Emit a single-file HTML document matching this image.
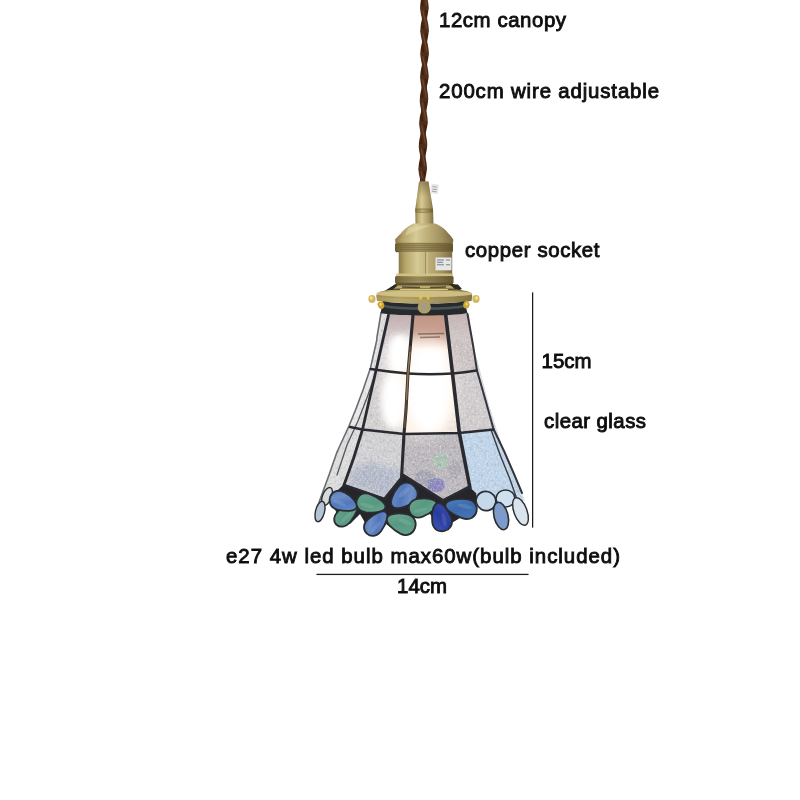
<!DOCTYPE html>
<html><head><meta charset="utf-8">
<style>
html,body{margin:0;padding:0;background:#fff;}
body{width:800px;height:800px;overflow:hidden;position:relative;font-family:"Liberation Sans",sans-serif;}
svg{position:absolute;left:0;top:0;display:block}
text{font-family:"Liberation Sans",sans-serif;font-size:20.4px;fill:#111;stroke:#111;stroke-width:0.9px;}
</style></head><body>
<svg width="800" height="800" viewBox="0 0 800 800">
<defs>
<filter id="soft" x="-5%" y="-5%" width="110%" height="110%"><feGaussianBlur stdDeviation="0.65"/></filter>
<filter id="soft2" x="-5%" y="-5%" width="110%" height="110%"><feGaussianBlur stdDeviation="0.35"/></filter>
<filter id="glowblur" x="-40%" y="-40%" width="180%" height="180%"><feGaussianBlur stdDeviation="6"/></filter>
<filter id="tex" x="0" y="0" width="100%" height="100%">
  <feTurbulence type="fractalNoise" baseFrequency="0.3" numOctaves="3" seed="11" result="n"/>
  <feColorMatrix in="n" type="matrix" values="0.6 0 0 0 0.7  0.6 0 0 0 0.7  0.6 0 0 0 0.71  0 0 0 0 1"/>
</filter>
<filter id="tex2" x="0" y="0" width="100%" height="100%">
  <feTurbulence type="fractalNoise" baseFrequency="0.55" numOctaves="2" seed="3" result="n"/>
  <feColorMatrix in="n" type="matrix" values="0 0 0 0 1  0 0 0 0 1  0 0 0 0 1  3.2 0 0 0 -1.55"/>
</filter>
<filter id="soft3" x="-30%" y="-30%" width="160%" height="160%"><feGaussianBlur stdDeviation="3"/></filter>
<linearGradient id="brassH" x1="0" y1="0" x2="1" y2="0">
  <stop offset="0" stop-color="#8a7a46"/>
  <stop offset="0.12" stop-color="#b4a468"/>
  <stop offset="0.35" stop-color="#d6ca96"/>
  <stop offset="0.55" stop-color="#c0b078"/>
  <stop offset="0.8" stop-color="#a39260"/>
  <stop offset="1" stop-color="#7c6c40"/>
</linearGradient>
<linearGradient id="brassH2" x1="0" y1="0" x2="1" y2="0">
  <stop offset="0" stop-color="#76663a"/>
  <stop offset="0.15" stop-color="#9c8c58"/>
  <stop offset="0.4" stop-color="#bcad76"/>
  <stop offset="0.7" stop-color="#988754"/>
  <stop offset="1" stop-color="#6a5b32"/>
</linearGradient>
<linearGradient id="coneTop" x1="0" y1="0" x2="0" y2="1"><stop offset="0" stop-color="#5e4e26" stop-opacity="0.5"/><stop offset="1" stop-color="#5e4e26" stop-opacity="0"/></linearGradient>
<linearGradient id="ringH" x1="0" y1="0" x2="1" y2="0">
  <stop offset="0" stop-color="#a8955a"/><stop offset="0.25" stop-color="#bba96c"/><stop offset="0.5" stop-color="#b09d60"/><stop offset="0.8" stop-color="#988652"/><stop offset="1" stop-color="#847242"/>
</linearGradient>
<linearGradient id="ringG" x1="0" y1="0" x2="0" y2="1">
  <stop offset="0" stop-color="#d8c98e"/>
  <stop offset="0.5" stop-color="#c2ae6e"/>
  <stop offset="1" stop-color="#a8925a"/>
</linearGradient>
<radialGradient id="bulb" cx="0.5" cy="0.5" r="0.5">
  <stop offset="0" stop-color="#fffdf8" stop-opacity="1"/>
  <stop offset="0.45" stop-color="#fff8ee" stop-opacity="0.95"/>
  <stop offset="0.75" stop-color="#fff0e0" stop-opacity="0.55"/>
  <stop offset="1" stop-color="#ffe8d8" stop-opacity="0"/>
</radialGradient>
<linearGradient id="glassV" x1="0" y1="0" x2="0" y2="1">
  <stop offset="0" stop-color="#c3aca6"/>
  <stop offset="0.18" stop-color="#d2c6c6"/>
  <stop offset="0.5" stop-color="#d6d4d9"/>
  <stop offset="1" stop-color="#c9c9d0"/>
</linearGradient>
<linearGradient id="cTop" x1="0" y1="0" x2="0" y2="1">
  <stop offset="0" stop-color="#c39a8a"/><stop offset="0.42" stop-color="#cba596"/><stop offset="0.58" stop-color="#ecdccf"/><stop offset="1" stop-color="#f6efe8"/>
</linearGradient>
<linearGradient id="lTop" x1="0" y1="0" x2="0" y2="1">
  <stop offset="0" stop-color="#c3b1b4"/><stop offset="0.3" stop-color="#cdc0c0"/><stop offset="0.6" stop-color="#ddd8d8"/><stop offset="1" stop-color="#dddadc"/>
</linearGradient>
<linearGradient id="pBlue" x1="0" y1="0" x2="1" y2="1">
  <stop offset="0" stop-color="#7394cd"/><stop offset="0.45" stop-color="#5277bb"/><stop offset="0.7" stop-color="#6e8fc8"/><stop offset="1" stop-color="#4c6fb3"/>
</linearGradient>
<linearGradient id="pBlue2" x1="0" y1="0" x2="1" y2="1">
  <stop offset="0" stop-color="#4f82bd"/><stop offset="0.5" stop-color="#3c6aad"/><stop offset="1" stop-color="#4a78b8"/>
</linearGradient>
<linearGradient id="pGreen" x1="0" y1="0" x2="1" y2="1">
  <stop offset="0" stop-color="#76ae99"/><stop offset="0.5" stop-color="#579880"/><stop offset="1" stop-color="#6aa48e"/>
</linearGradient>
<linearGradient id="pDark" x1="0" y1="0" x2="1" y2="1">
  <stop offset="0" stop-color="#3a4db2"/><stop offset="0.5" stop-color="#2a3c9e"/><stop offset="1" stop-color="#3f58b8"/>
</linearGradient>
<linearGradient id="cOver" x1="0" y1="0" x2="0" y2="1">
  <stop offset="0" stop-color="#c09484" stop-opacity="1"/><stop offset="0.5" stop-color="#c9a090" stop-opacity="0.9"/><stop offset="1" stop-color="#e8d0c0" stop-opacity="0"/>
</linearGradient>
<linearGradient id="lOver" x1="0" y1="0" x2="0" y2="1">
  <stop offset="0" stop-color="#c0aeb2" stop-opacity="1"/><stop offset="0.5" stop-color="#cbbcbc" stop-opacity="0.8"/><stop offset="1" stop-color="#ddd4d4" stop-opacity="0"/>
</linearGradient>
<clipPath id="litClip"><path d="M388.500,314 L446,314 L452.500,373.500 L459.500,433 L404,434 L362.500,429.500 L376,370.500 Z"/></clipPath>
<clipPath id="shadeClip"><path id="shadeP" d="M381,312.500 L467.500,312.500 L473,345 L480,371 L488,402 L496,428 L504,451 L514,474 L522,493 L527,508 L500,505 L470,500 L440,508 L400,508 L360,505 L330,500 L319.500,501 L329,475 L337,452 L349,426 L355.500,410 L363,390 L370.500,368 L377.500,340 Z"/></clipPath>
</defs>
<rect width="800" height="800" fill="#fff"/>

<g id="lamp" filter="url(#soft)">
<!-- cord -->
<g id="cord">
<polyline points="424.3,-2 424.3,1 424.3,4 424.4,7 424.4,10 424.4,13 424.5,16 424.5,19 424.5,22 424.5,25 424.5,28 424.6,31 424.6,34 424.6,37 424.6,40 424.6,43 424.6,46 424.6,49 424.6,52 424.6,55 424.5,58 424.5,61 424.5,64 424.5,67 424.4,70 424.4,73 424.4,76 424.3,79 424.3,82 424.2,85 424.2,88 424.1,91 424.1,94 424.0,97 423.9,100 423.9,103 423.8,106 423.8,109 423.7,112 423.6,115 423.6,118 423.5,121 423.4,124 423.4,127 423.3,130 423.2,133 423.2,136 423.1,139 423.0,142 423.0,145 422.9,148 422.9,151 422.8,154 422.8,157 422.8,160 422.7,163 422.7,166 422.7,169 422.7,172 422.6,175 422.6,178 422.6,181" fill="none" stroke="#381c0e" stroke-width="5.2"/>
<polyline points="426.3,8.0 426.2,9.0 426.2,10.0 426.0,11.0 425.9,12.0 425.7,13.0 425.6,14.0 425.3,15.0 425.1,16.0 424.9,17.0 424.6,18.0 424.4,19.0 424.1,20.0 423.9,21.0 423.7,22.0 423.4,23.0 423.2,24.0 423.1,25.0 422.9,26.0 422.8,27.0 422.7,28.0 422.7,29.0 422.7,30.0 422.7,31.0" fill="none" stroke="#41220f" stroke-width="4.4" stroke-opacity="1" stroke-linecap="round" stroke-linejoin="round"/>
<polyline points="426.5,54.0 426.4,55.0 426.3,56.0 426.2,57.0 426.0,58.0 425.9,59.0 425.7,60.0 425.4,61.0 425.2,62.0 424.9,63.0 424.7,64.0 424.4,65.0 424.1,66.0 423.9,67.0 423.6,68.0 423.4,69.0 423.2,70.0 423.0,71.0 422.8,72.0 422.7,73.0 422.6,74.0 422.5,75.0 422.5,76.0 422.5,77.0" fill="none" stroke="#41220f" stroke-width="4.4" stroke-opacity="1" stroke-linecap="round" stroke-linejoin="round"/>
<polyline points="425.8,100.0 425.8,101.0 425.7,102.0 425.5,103.0 425.4,104.0 425.2,105.0 424.9,106.0 424.7,107.0 424.4,108.0 424.2,109.0 423.9,110.0 423.6,111.0 423.3,112.0 423.1,113.0 422.8,114.0 422.5,115.0 422.3,116.0 422.1,117.0 421.9,118.0 421.8,119.0 421.7,120.0 421.6,121.0 421.6,122.0 421.6,123.0" fill="none" stroke="#41220f" stroke-width="4.4" stroke-opacity="1" stroke-linecap="round" stroke-linejoin="round"/>
<polyline points="424.9,146.0 424.8,147.0 424.7,148.0 424.6,149.0 424.4,150.0 424.2,151.0 424.0,152.0 423.8,153.0 423.5,154.0 423.2,155.0 423.0,156.0 422.7,157.0 422.4,158.0 422.2,159.0 421.9,160.0 421.7,161.0 421.5,162.0 421.3,163.0 421.1,164.0 421.0,165.0 420.9,166.0 420.8,167.0 420.8,168.0 420.8,169.0" fill="none" stroke="#41220f" stroke-width="4.4" stroke-opacity="1" stroke-linecap="round" stroke-linejoin="round"/>
<polyline points="423.9,-3.0 423.7,-2.0 423.4,-1.0 423.2,0.0 423.0,1.0 422.9,2.0 422.7,3.0 422.6,4.0 422.5,5.0 422.5,6.0 422.5,7.0 422.5,8.0" fill="none" stroke="#41220f" stroke-width="4.4" stroke-opacity="1" stroke-linecap="round" stroke-linejoin="round"/>
<polyline points="426.4,31.0 426.4,32.0 426.3,33.0 426.2,34.0 426.1,35.0 425.9,36.0 425.7,37.0 425.5,38.0 425.2,39.0 425.0,40.0 424.7,41.0 424.5,42.0 424.2,43.0 424.0,44.0 423.7,45.0 423.5,46.0 423.3,47.0 423.1,48.0 423.0,49.0 422.8,50.0 422.8,51.0 422.7,52.0 422.7,53.0 422.7,54.0" fill="none" stroke="#41220f" stroke-width="4.4" stroke-opacity="1" stroke-linecap="round" stroke-linejoin="round"/>
<polyline points="426.2,77.0 426.2,78.0 426.1,79.0 425.9,80.0 425.8,81.0 425.6,82.0 425.4,83.0 425.1,84.0 424.9,85.0 424.6,86.0 424.4,87.0 424.1,88.0 423.8,89.0 423.5,90.0 423.3,91.0 423.0,92.0 422.8,93.0 422.6,94.0 422.4,95.0 422.3,96.0 422.2,97.0 422.1,98.0 422.1,99.0 422.1,100.0" fill="none" stroke="#41220f" stroke-width="4.4" stroke-opacity="1" stroke-linecap="round" stroke-linejoin="round"/>
<polyline points="425.3,123.0 425.3,124.0 425.1,125.0 425.0,126.0 424.8,127.0 424.6,128.0 424.4,129.0 424.2,130.0 423.9,131.0 423.7,132.0 423.4,133.0 423.1,134.0 422.8,135.0 422.6,136.0 422.3,137.0 422.1,138.0 421.8,139.0 421.6,140.0 421.5,141.0 421.3,142.0 421.2,143.0 421.1,144.0 421.1,145.0 421.1,146.0" fill="none" stroke="#41220f" stroke-width="4.4" stroke-opacity="1" stroke-linecap="round" stroke-linejoin="round"/>
<polyline points="424.6,169.0 424.5,170.0 424.4,171.0 424.3,172.0 424.1,173.0 424.0,174.0 423.7,175.0 423.5,176.0 423.3,177.0 423.0,178.0 422.8,179.0 422.5,180.0 422.2,181.0" fill="none" stroke="#41220f" stroke-width="4.4" stroke-opacity="1" stroke-linecap="round" stroke-linejoin="round"/>
<polyline points="424.6,-3.0 424.9,-2.0 425.1,-1.0 425.4,0.0 425.6,1.0 425.8,2.0 425.9,3.0 426.1,4.0 426.2,5.0 426.2,6.0 426.3,7.0 426.3,8.0" fill="none" stroke="#4f2d1a" stroke-width="4.6" stroke-opacity="1" stroke-linecap="round" stroke-linejoin="round"/>
<polyline points="422.7,31.0 422.7,32.0 422.8,33.0 422.9,34.0 423.1,35.0 423.3,36.0 423.5,37.0 423.7,38.0 423.9,39.0 424.2,40.0 424.4,41.0 424.7,42.0 424.9,43.0 425.2,44.0 425.4,45.0 425.7,46.0 425.9,47.0 426.0,48.0 426.2,49.0 426.3,50.0 426.4,51.0 426.5,52.0 426.5,53.0 426.5,54.0" fill="none" stroke="#4f2d1a" stroke-width="4.6" stroke-opacity="1" stroke-linecap="round" stroke-linejoin="round"/>
<polyline points="422.5,77.0 422.5,78.0 422.6,79.0 422.7,80.0 422.8,81.0 423.0,82.0 423.1,83.0 423.3,84.0 423.6,85.0 423.8,86.0 424.0,87.0 424.3,88.0 424.5,89.0 424.8,90.0 425.0,91.0 425.2,92.0 425.4,93.0 425.5,94.0 425.7,95.0 425.8,96.0 425.8,97.0 425.9,98.0 425.9,99.0 425.8,100.0" fill="none" stroke="#4f2d1a" stroke-width="4.6" stroke-opacity="1" stroke-linecap="round" stroke-linejoin="round"/>
<polyline points="421.6,123.0 421.6,124.0 421.6,125.0 421.7,126.0 421.9,127.0 422.0,128.0 422.2,129.0 422.4,130.0 422.6,131.0 422.8,132.0 423.1,133.0 423.3,134.0 423.5,135.0 423.8,136.0 424.0,137.0 424.2,138.0 424.4,139.0 424.5,140.0 424.7,141.0 424.8,142.0 424.9,143.0 424.9,144.0 424.9,145.0 424.9,146.0" fill="none" stroke="#4f2d1a" stroke-width="4.6" stroke-opacity="1" stroke-linecap="round" stroke-linejoin="round"/>
<polyline points="420.8,169.0 420.8,170.0 420.9,171.0 421.0,172.0 421.2,173.0 421.3,174.0 421.5,175.0 421.7,176.0 422.0,177.0 422.2,178.0 422.5,179.0 422.7,180.0 423.0,181.0" fill="none" stroke="#4f2d1a" stroke-width="4.6" stroke-opacity="1" stroke-linecap="round" stroke-linejoin="round"/>
<polyline points="422.5,8.0 422.6,9.0 422.6,10.0 422.8,11.0 422.9,12.0 423.1,13.0 423.3,14.0 423.5,15.0 423.8,16.0 424.0,17.0 424.3,18.0 424.6,19.0 424.8,20.0 425.1,21.0 425.4,22.0 425.6,23.0 425.8,24.0 426.0,25.0 426.1,26.0 426.3,27.0 426.4,28.0 426.4,29.0 426.5,30.0 426.4,31.0" fill="none" stroke="#4f2d1a" stroke-width="4.6" stroke-opacity="1" stroke-linecap="round" stroke-linejoin="round"/>
<polyline points="422.7,54.0 422.7,55.0 422.8,56.0 422.9,57.0 423.1,58.0 423.2,59.0 423.4,60.0 423.6,61.0 423.9,62.0 424.1,63.0 424.3,64.0 424.6,65.0 424.8,66.0 425.1,67.0 425.3,68.0 425.5,69.0 425.7,70.0 425.9,71.0 426.0,72.0 426.1,73.0 426.2,74.0 426.3,75.0 426.3,76.0 426.2,77.0" fill="none" stroke="#4f2d1a" stroke-width="4.6" stroke-opacity="1" stroke-linecap="round" stroke-linejoin="round"/>
<polyline points="422.1,100.0 422.1,101.0 422.1,102.0 422.2,103.0 422.4,104.0 422.5,105.0 422.7,106.0 422.9,107.0 423.1,108.0 423.3,109.0 423.6,110.0 423.8,111.0 424.0,112.0 424.3,113.0 424.5,114.0 424.7,115.0 424.9,116.0 425.0,117.0 425.2,118.0 425.3,119.0 425.3,120.0 425.4,121.0 425.4,122.0 425.3,123.0" fill="none" stroke="#4f2d1a" stroke-width="4.6" stroke-opacity="1" stroke-linecap="round" stroke-linejoin="round"/>
<polyline points="421.1,146.0 421.1,147.0 421.2,148.0 421.3,149.0 421.4,150.0 421.6,151.0 421.8,152.0 422.0,153.0 422.2,154.0 422.4,155.0 422.7,156.0 422.9,157.0 423.2,158.0 423.4,159.0 423.6,160.0 423.8,161.0 424.0,162.0 424.2,163.0 424.3,164.0 424.4,165.0 424.5,166.0 424.6,167.0 424.6,168.0 424.6,169.0" fill="none" stroke="#4f2d1a" stroke-width="4.6" stroke-opacity="1" stroke-linecap="round" stroke-linejoin="round"/>
<polyline points="425.6,0.0 425.8,1.0 426.0,2.0 426.1,3.0 426.3,4.0 426.4,5.0" fill="none" stroke="#7a5038" stroke-width="1.3" stroke-opacity="0.7" stroke-linecap="round" stroke-linejoin="round"/>
<polyline points="423.1,34.0 423.3,35.0 423.5,36.0 423.7,37.0 423.9,38.0 424.1,39.0 424.4,40.0 424.6,41.0 424.9,42.0 425.1,43.0 425.4,44.0 425.6,45.0 425.9,46.0 426.1,47.0 426.2,48.0 426.4,49.0 426.5,50.0 426.6,51.0" fill="none" stroke="#7a5038" stroke-width="1.3" stroke-opacity="0.7" stroke-linecap="round" stroke-linejoin="round"/>
<polyline points="422.9,80.0 423.0,81.0 423.2,82.0 423.3,83.0 423.5,84.0 423.8,85.0 424.0,86.0 424.2,87.0 424.5,88.0 424.7,89.0 425.0,90.0 425.2,91.0 425.4,92.0 425.6,93.0 425.7,94.0 425.9,95.0 426.0,96.0 426.0,97.0" fill="none" stroke="#7a5038" stroke-width="1.3" stroke-opacity="0.7" stroke-linecap="round" stroke-linejoin="round"/>
<polyline points="421.9,126.0 422.1,127.0 422.2,128.0 422.4,129.0 422.6,130.0 422.8,131.0 423.0,132.0 423.3,133.0 423.5,134.0 423.7,135.0 424.0,136.0 424.2,137.0 424.4,138.0 424.6,139.0 424.7,140.0 424.9,141.0 425.0,142.0 425.1,143.0" fill="none" stroke="#7a5038" stroke-width="1.3" stroke-opacity="0.7" stroke-linecap="round" stroke-linejoin="round"/>
<polyline points="421.2,172.0 421.4,173.0 421.5,174.0 421.7,175.0 421.9,176.0 422.2,177.0 422.4,178.0" fill="none" stroke="#7a5038" stroke-width="1.3" stroke-opacity="0.7" stroke-linecap="round" stroke-linejoin="round"/>
<polyline points="423.0,11.0 423.1,12.0 423.3,13.0 423.5,14.0 423.7,15.0 424.0,16.0 424.2,17.0 424.5,18.0 424.8,19.0 425.0,20.0 425.3,21.0 425.6,22.0 425.8,23.0 426.0,24.0 426.2,25.0 426.3,26.0 426.5,27.0 426.6,28.0" fill="none" stroke="#7a5038" stroke-width="1.3" stroke-opacity="0.7" stroke-linecap="round" stroke-linejoin="round"/>
<polyline points="423.1,57.0 423.3,58.0 423.4,59.0 423.6,60.0 423.8,61.0 424.1,62.0 424.3,63.0 424.5,64.0 424.8,65.0 425.0,66.0 425.3,67.0 425.5,68.0 425.7,69.0 425.9,70.0 426.1,71.0 426.2,72.0 426.3,73.0 426.4,74.0" fill="none" stroke="#7a5038" stroke-width="1.3" stroke-opacity="0.7" stroke-linecap="round" stroke-linejoin="round"/>
<polyline points="422.4,103.0 422.6,104.0 422.7,105.0 422.9,106.0 423.1,107.0 423.3,108.0 423.5,109.0 423.8,110.0 424.0,111.0 424.2,112.0 424.5,113.0 424.7,114.0 424.9,115.0 425.1,116.0 425.2,117.0 425.4,118.0 425.5,119.0 425.5,120.0" fill="none" stroke="#7a5038" stroke-width="1.3" stroke-opacity="0.7" stroke-linecap="round" stroke-linejoin="round"/>
<polyline points="421.5,149.0 421.6,150.0 421.8,151.0 422.0,152.0 422.2,153.0 422.4,154.0 422.6,155.0 422.9,156.0 423.1,157.0 423.4,158.0 423.6,159.0 423.8,160.0 424.0,161.0 424.2,162.0 424.4,163.0 424.5,164.0 424.6,165.0 424.7,166.0" fill="none" stroke="#7a5038" stroke-width="1.3" stroke-opacity="0.7" stroke-linecap="round" stroke-linejoin="round"/>
</g>

<!-- socket -->
<g id="socket">
  <!-- cone -->
  <path d="M419,181.500 L428.500,181.500 L433,209 L433.500,224 L415.500,224 L415.300,209 Z" fill="url(#brassH)"/>
  <path d="M419,181.500 L428.500,181.500 L431,197 L417,197 Z" fill="url(#coneTop)"/>
  <path d="M415.300,208.800 L433,208.800 L433,212.500 L415.500,212.500 Z" fill="url(#brassH2)"/>
  <path d="M415.300,209 L433,209" stroke="#7d6c3a" stroke-width="0.800" opacity="0.8"/>
  <path d="M415.500,212.600 L433.200,212.600" stroke="#86753f" stroke-width="0.800" opacity="0.7"/>
  <!-- white tag -->
  <rect x="431" y="184" width="7.500" height="9.500" fill="#e6e6e8" transform="rotate(8 434 188)"/>
  <path d="M432.500,186.500 L437,187.200 M432.300,189 L436.800,189.700 M432,191.200 L436.500,191.900" stroke="#8a8a92" stroke-width="0.700"/>
  <!-- dome -->
  <path d="M413.800,223.400 L435,223.400 C439,224.500 443,227.900 443,227.900 C446,230 448.600,233.500 448.600,233.500 C450.500,235.500 452,237 452,238.500 L396.900,238.500 C397,237 398.500,235.500 400.800,233.500 C400.800,233.500 403,230 406.400,227.900 C406.400,227.900 410,224.500 413.800,223.400 Z" fill="url(#brassH)"/>
  <path d="M408,228.500 C413,225.500 424,225 430,225.800 C425,228 412,232 405,236 Z" fill="#e6dbae" opacity="0.5"/>
  <!-- lip + knurl band 1 -->
  <rect x="395.200" y="237.800" width="58" height="6" rx="2" fill="url(#brassH)"/>
  <rect x="395" y="243" width="58" height="8.800" rx="1.500" fill="url(#brassH2)"/>
  <rect x="395" y="243.500" width="58" height="8.300" fill="#4a3e1e" opacity="0.22"/>
  <path d="M396,243.300 L452.500,243.300" stroke="#7a6935" stroke-width="0.900" opacity="0.8"/>
  <path d="M396,245.500 L452.500,245.500 M396,247.500 L452.500,247.500 M396,249.500 L452.500,249.500" stroke="#6e5e30" stroke-width="0.700" opacity="0.55"/>
  <path d="M396,251.600 L452.500,251.600" stroke="#4f4220" stroke-width="1.300" opacity="0.75"/>
  <!-- body -->
  <rect x="398.700" y="251.500" width="53.500" height="24.500" fill="url(#brassH)"/>
  <rect x="425.300" y="252" width="1" height="23.500" fill="#7a6935" opacity="0.7"/>
  <rect x="426.300" y="252" width="1.200" height="23.500" fill="#e8ddb0" opacity="0.6"/>
  <rect x="435.500" y="257.500" width="16" height="12.800" fill="#e6e6e6"/>
  <path d="M437,260 L444,260 M437,262.300 L443,262.300 M437,264.800 L444,264.800 M446,260 L450,260 M446,264.800 L450,264.800" stroke="#555a66" stroke-width="1" opacity="0.75"/>
  <!-- lip + knurl band 2 -->
  <rect x="396" y="273.500" width="57" height="3" rx="1.200" fill="#d3c488" opacity="0.9"/>
  <rect x="395" y="276" width="58.500" height="7.500" rx="1.500" fill="url(#brassH2)"/>
  <rect x="395" y="276.500" width="58.500" height="7" fill="#4a3e1e" opacity="0.22"/>
  <path d="M396,278 L453,278 M396,280 L453,280" stroke="#6e5e30" stroke-width="0.700" opacity="0.55"/>
  <path d="M396,283.500 L453,283.500" stroke="#4a3e1e" stroke-width="1.400" opacity="0.8"/>
  <!-- under-band cage -->
  <path d="M396,284 L453,284 L462,291 L386,291 Z" fill="#5b5030"/>
  <path d="M398,285.500 L451,285.500 L456,288.500 L393,288.500 Z" fill="#b9a868"/>
  <path d="M386,291.500 L396,284.500 M462,291.500 L453,284.500" stroke="#3a3320" stroke-width="1.500"/>
  <path d="M400,289.800 L448,289.800" stroke="#d6c688" stroke-width="1.400"/>
  <path d="M384.500,291 L395,284.500 L397,286 L390,291.500 Z" fill="#2e2a22"/>
  <path d="M449,284 L458,284.500 L462,289 L455,289 Z" fill="#2e2a22"/>
  <path d="M402,287 L420,287.500 M430,287.500 L446,287" stroke="#3c3422" stroke-width="1.300" opacity="0.8"/>
  <!-- ring -->
  <path d="M376.200,296 C376.200,291.500 384,290 394,290 L455,290 C465,290 472.300,291.500 472.300,296 L471.500,301 C455,304 394,304 377,301 Z" fill="url(#ringH)"/>
  <path d="M377,294.800 C395,297.800 455,297.800 471.500,294.800 L472,292.500 C462,290 388,290 376.500,292.500 Z" fill="#d2c48a" opacity="0.9"/>
  <path d="M377,296 C395,299 455,299 471.500,296" fill="none" stroke="#8e7c44" stroke-width="0.700" opacity="0.6"/>
  <!-- tabs above screw -->
  <rect x="419.300" y="295.500" width="2.600" height="4" rx="1" fill="#e2c455"/>
  <rect x="426.800" y="295.500" width="2.600" height="4" rx="1" fill="#e2c455"/>
  <!-- knobs -->
  <ellipse cx="372" cy="299" rx="3.600" ry="4" fill="#d2b860"/>
  <ellipse cx="371.300" cy="298" rx="1.500" ry="1.800" fill="#f1e2a0"/>
  <ellipse cx="380.500" cy="304.300" rx="3" ry="2.600" fill="#c9a234"/>
  <ellipse cx="476" cy="299" rx="3.600" ry="4" fill="#d2b860"/>
  <ellipse cx="476.500" cy="298" rx="1.500" ry="1.800" fill="#f1e2a0"/>
  <ellipse cx="466.500" cy="304.300" rx="3" ry="2.600" fill="#c9a234"/>
</g>

<!-- shade -->
<g id="shade">
  <use href="#shadeP" fill="#cfccd1"/>
  <g clip-path="url(#shadeClip)">
    <!-- left sliver -->
    <path d="M381,313 L388.500,315 L376,370.500 L362.500,429.500 L344,485 L316,521 L300,521 L300,313 Z" fill="#dddcdc"/>
    <path d="M379,318 L373,352 L366,380 L357,404 L350,424 L358,426 L370,385 L376,355 L382,318 Z" fill="#eceaea" opacity="0.8"/>
    <!-- row1 -->
    <path d="M388.500,314 L413,314 L408,373 L376,370.500 Z" fill="url(#lTop)"/>
    <path d="M413,314 L446,314 L452.500,373.500 L408,373 Z" fill="url(#cTop)"/>
    <path d="M418,334 L444,333.500 M420,337.500 L440,337" stroke="#5c4a40" stroke-width="1.600" opacity="0.7" fill="none"/>
    <path d="M446,314 L468,314 L477,371 L452.500,374 Z" fill="#ccc3c2"/>
    <!-- row2 -->
    <path d="M376,370.500 L408,373 L404,434 L362.500,429.500 Z" fill="#d4d0d0"/>
    <path d="M408,373 L452.500,373.500 L459.500,433 L404,434 Z" fill="#ebe2dc"/>
    <path d="M452.500,374 L477,371 L493.500,429.500 L459.500,433 Z" fill="#d0cccd"/>
    <!-- row3 -->
    <path d="M362.500,430 L404,434 L401,478 L384.500,498.500 L345.500,484 Z" fill="#d0d0d3"/>
    <path d="M404,434 L459,433 L468.500,486.500 L443,500 L403,475 Z" fill="#bbb7bc"/>
    <path d="M459.500,433 L493.500,429.500 L524,500 L500,520 L470,488 Z" fill="#bfd4e9"/>
    <!-- right sliver -->
    <path d="M468,313 L477,371 L493.500,429.500 L522,495 L530,512 L528,530 L540,530 L540,300 Z" fill="#d9dce3"/>
    <!-- tints -->
    <ellipse cx="436" cy="485" rx="9" ry="7" fill="#6f6cc0" opacity="0.6" filter="url(#soft)"/>
    <ellipse cx="441" cy="461" rx="8" ry="8" fill="#a4c9ae" opacity="0.6"/>
    <ellipse cx="425" cy="478" rx="10" ry="8" fill="#8f93a8" opacity="0.45"/>
    <ellipse cx="455" cy="470" rx="6" ry="9" fill="#9a98a8" opacity="0.4"/>
    <path d="M348,484 L352,470 L372,462 L390,470 L400,468 L400,480 L385,497 Z" fill="#98a4bf" opacity="0.5" filter="url(#soft3)"/>
    <!-- texture -->
    <rect x="300" y="310" width="240" height="230" fill="#fff" filter="url(#tex)" style="mix-blend-mode:multiply"/>
    <rect x="300" y="310" width="240" height="230" fill="#fff" filter="url(#tex2)" opacity="0.4"/>
    <!-- bulb glow -->
    <ellipse cx="422" cy="388" rx="38" ry="56" fill="#fff4e8" opacity="0.28" filter="url(#glowblur)"/>
    <g clip-path="url(#litClip)">
      <ellipse cx="424" cy="386" rx="36" ry="56" fill="#fff6ec" opacity="0.95" filter="url(#glowblur)"/>
      <g filter="url(#soft3)">
        <ellipse cx="429" cy="392" rx="21" ry="40" fill="#fff"/>
        <ellipse cx="429" cy="360" rx="17" ry="14" fill="#fff"/>
        <ellipse cx="399" cy="353" rx="11" ry="20" fill="#fff"/>
        <ellipse cx="393" cy="401" rx="12" ry="28" fill="#fff"/>
      </g>
    </g>
    <path d="M413,314 L446,314 L450,350 L410,350 Z" fill="url(#cOver)"/>
    <path d="M388.500,314 L413,314 L411,338 L383,338 Z" fill="url(#lOver)"/>
    <path d="M446,314 L467,314 L472,345 L449.500,345 Z" fill="url(#lOver)" opacity="0.7"/>
    <path d="M418,334 L444,333.500 M420,337.500 L440,337" stroke="#5c4a40" stroke-width="1.600" opacity="0.6" fill="none"/>
  </g>
</g>

<!-- dark petal band -->
<path d="M336,492 L344,484 L384.500,498 L401.500,477 L404,475 L443,500 L469,486.500 L476,493 L478,502 L470,512 L450,524 L440,528 L430,514 L412,518 L408,530 L394,530 L386,524 L380,533 L368,528 L360,514 L350,524 L342,522 L334,508 Z" fill="#25282c"/>

<!-- lead lines -->
<g id="lead" fill="none" stroke="#2b2c30" stroke-linecap="round" stroke-linejoin="round">
  <path d="M381,313 L377,337 L376.800,340 L370.500,368 L363,390 L355.500,410 L349,426 L337,452 L329,475 L319.500,501 L316,520" stroke-width="1.600" stroke="#6a6c70"/>
  <path d="M373,371 L365,394 L355,420 L344,444 L334,474" stroke-width="1.300" stroke="#55575c" transform="translate(3,1)"/>
  <path d="M467.500,314 L473,345 L477,370.500 L486,402 L493.500,429 L504,451 L514,474 L522,493" stroke-width="2" stroke="#34363c"/>
  <path d="M494,430 L503,455 L512,477 L519,497" stroke-width="1.400" stroke="#3a3c42" transform="translate(-2.500,1)"/>
  <path d="M388.500,315 L376,370.500 L362.500,429.500 L353.500,458.500 L344,485" stroke-width="2.800"/>
  <path d="M413,315 L408,373 L406,410 L404,434 L401.500,478" stroke-width="3.100"/>
  <path d="M445.700,315 L452.500,373.500 L459.300,432.700 L470,488" stroke-width="3.600"/>
  <path d="M370.500,369 Q390,372 407.500,373.500 Q430,375 452.500,373.500 Q465,372.500 476.500,370.500" stroke-width="2.400"/>
  <path d="M350,427 L362.500,429.500 L404,434 L459,433 L493.500,429.500" stroke-width="2.500"/>
  <path d="M344,485 L384.500,499 L401.500,478 L403,475 L443,500.500 L469,487" stroke-width="2.800"/>
</g>
<!-- lit part of line B -->
<path d="M410.500,346 L408,373 L406,410 L404.500,428" fill="none" stroke="#604b34" stroke-width="2.100" opacity="0.95"/>
<path d="M410,352 L408,373 L406.500,400" fill="none" stroke="#c9a878" stroke-width="0.800" opacity="0.7"/>

<!-- petals -->
<g id="petals" stroke="#2a2d30" stroke-width="1.800">
  <ellipse cx="327" cy="496.500" rx="4.500" ry="9.500" fill="#d7dadd" stroke-width="1.400" transform="rotate(22 327 496.500)"/>
  <ellipse cx="320" cy="511.500" rx="4.500" ry="10.500" fill="#b5c3d4" stroke-width="1.400" transform="rotate(14 320 511.500)"/>
  <path d="M-1,0 C-1,-0.42 -0.45,-0.8 0.2,-0.92 C0.75,-1 1,-0.5 1,0 C1,0.5 0.75,1 0.2,0.92 C-0.45,0.8 -1,0.42 -1,0 Z" fill="url(#pGreen)" vector-effect="non-scaling-stroke" transform="translate(347 513.5) rotate(133) scale(15.37 8.69)"/>
  <path d="M-1,0 C-1,-0.42 -0.45,-0.8 0.2,-0.92 C0.75,-1 1,-0.5 1,0 C1,0.5 0.75,1 0.2,0.92 C-0.45,0.8 -1,0.42 -1,0 Z" fill="url(#pBlue)" vector-effect="non-scaling-stroke" transform="translate(343.5 502) rotate(202) scale(14.31 10.07)"/>
  <path d="M-1,0 C-1,-0.42 -0.45,-0.8 0.2,-0.92 C0.75,-1 1,-0.5 1,0 C1,0.5 0.75,1 0.2,0.92 C-0.45,0.8 -1,0.42 -1,0 Z" fill="url(#pGreen)" vector-effect="non-scaling-stroke" transform="translate(371 504) rotate(194) scale(14.84 10.07)"/>
  <path d="M-1,0 C-1,-0.42 -0.45,-0.8 0.2,-0.92 C0.75,-1 1,-0.5 1,0 C1,0.5 0.75,1 0.2,0.92 C-0.45,0.8 -1,0.42 -1,0 Z" fill="url(#pBlue)" vector-effect="non-scaling-stroke" transform="translate(376.5 523) rotate(132) scale(14.31 9.54)"/>
  <path d="M-1,0 C-1,-0.42 -0.45,-0.8 0.2,-0.92 C0.75,-1 1,-0.5 1,0 C1,0.5 0.75,1 0.2,0.92 C-0.45,0.8 -1,0.42 -1,0 Z" fill="url(#pGreen)" vector-effect="non-scaling-stroke" transform="translate(401 523) rotate(20) scale(14.84 11.13)"/>
  <path d="M-1,0 C-1,-0.42 -0.45,-0.8 0.2,-0.92 C0.75,-1 1,-0.5 1,0 C1,0.5 0.75,1 0.2,0.92 C-0.45,0.8 -1,0.42 -1,0 Z" fill="url(#pBlue)" vector-effect="non-scaling-stroke" transform="translate(403.5 496.5) rotate(-42) scale(14.84 11.66)"/>
  <path d="M-1,0 C-1,-0.42 -0.45,-0.8 0.2,-0.92 C0.75,-1 1,-0.5 1,0 C1,0.5 0.75,1 0.2,0.92 C-0.45,0.8 -1,0.42 -1,0 Z" fill="url(#pGreen)" vector-effect="non-scaling-stroke" transform="translate(423 507) rotate(165) scale(14.31 10.07)"/>
  <path d="M-1,0 C-1,-0.42 -0.45,-0.8 0.2,-0.92 C0.75,-1 1,-0.5 1,0 C1,0.5 0.75,1 0.2,0.92 C-0.45,0.8 -1,0.42 -1,0 Z" fill="url(#pBlue2)" vector-effect="non-scaling-stroke" transform="translate(461 508) rotate(12) scale(15.90 10.60)"/>
  <path d="M-1,0 C-1,-0.42 -0.45,-0.8 0.2,-0.92 C0.75,-1 1,-0.5 1,0 C1,0.5 0.75,1 0.2,0.92 C-0.45,0.8 -1,0.42 -1,0 Z" fill="url(#pDark)" vector-effect="non-scaling-stroke" transform="translate(441 517) rotate(76) scale(14.31 10.60)"/>
  <ellipse cx="0.25" cy="-0.25" rx="0.5" ry="0.22" fill="#fff" opacity="0.11" stroke="none" transform="translate(347 513.5) rotate(133) scale(14.5 8.2)"/>
  <ellipse cx="0.25" cy="-0.25" rx="0.5" ry="0.22" fill="#fff" opacity="0.11" stroke="none" transform="translate(343.5 502) rotate(202) scale(13.5 9.5)"/>
  <ellipse cx="0.25" cy="-0.25" rx="0.5" ry="0.22" fill="#fff" opacity="0.11" stroke="none" transform="translate(371 504) rotate(194) scale(14 9.5)"/>
  <ellipse cx="0.25" cy="-0.25" rx="0.5" ry="0.22" fill="#fff" opacity="0.11" stroke="none" transform="translate(376.5 523) rotate(132) scale(13.5 9)"/>
  <ellipse cx="0.25" cy="-0.25" rx="0.5" ry="0.22" fill="#fff" opacity="0.11" stroke="none" transform="translate(401 523) rotate(20) scale(14 10.5)"/>
  <ellipse cx="0.25" cy="-0.25" rx="0.5" ry="0.22" fill="#fff" opacity="0.11" stroke="none" transform="translate(403.5 496.5) rotate(-42) scale(14 11)"/>
  <ellipse cx="0.25" cy="-0.25" rx="0.5" ry="0.22" fill="#fff" opacity="0.11" stroke="none" transform="translate(423 507) rotate(165) scale(13.5 9.5)"/>
  <ellipse cx="0.25" cy="-0.25" rx="0.5" ry="0.22" fill="#fff" opacity="0.11" stroke="none" transform="translate(461 508) rotate(12) scale(15 10)"/>
  <ellipse cx="0.25" cy="-0.25" rx="0.5" ry="0.22" fill="#fff" opacity="0.11" stroke="none" transform="translate(441 517) rotate(76) scale(13.5 10)"/>
  <ellipse cx="486" cy="501" rx="10" ry="9.500" fill="#c6d9ea" stroke-width="1.600" transform="rotate(30 486 501)"/>
  <ellipse cx="505.500" cy="498.500" rx="9.500" ry="8.500" fill="#d1e0ee" stroke-width="1.600"/>
  <ellipse cx="501" cy="516" rx="7" ry="14" fill="#7c9aca" stroke-width="1.600" transform="rotate(-14 501 516)"/>
  <ellipse cx="520.500" cy="511.500" rx="6.500" ry="14.500" fill="#d9e4ec" stroke-width="1.400" transform="rotate(-20 520.500 511.500)"/>
</g>

<!-- collar -->
<path d="M383,301.300 C396,304.500 454,304.500 464.500,301.300 L467.500,313.300 C450,316.300 400,316.300 380.500,313.300 Z" fill="#272a2b"/>
<path d="M383.500,306 C400,309.500 450,309.500 465,306" fill="none" stroke="#56626a" stroke-width="2.600" opacity="0.75"/>
<g><ellipse cx="381.300" cy="305.300" rx="3" ry="3.600" fill="#cda530"/><ellipse cx="466.200" cy="305" rx="3" ry="3.600" fill="#cda530"/><ellipse cx="380.800" cy="304.300" rx="1.200" ry="1.500" fill="#f0d870"/><ellipse cx="466.600" cy="304" rx="1.200" ry="1.500" fill="#f0d870"/></g>

<!-- screw -->
<circle cx="424.300" cy="307" r="6.600" fill="#b49f62"/>
<circle cx="424.300" cy="307" r="4.600" fill="#a79c80"/>
</g>

<g id="labels" filter="url(#soft2)">
<text x="439" y="26.800" textLength="127" lengthAdjust="spacing">12cm canopy</text>
<text x="439" y="98.200" textLength="220" lengthAdjust="spacing">200cm wire adjustable</text>
<text x="465" y="257.200" textLength="134.500" lengthAdjust="spacing">copper socket</text>
<text x="541.500" y="368" textLength="50" lengthAdjust="spacing">15cm</text>
<text x="544" y="428.400" textLength="102" lengthAdjust="spacing">clear glass</text>
<text x="226" y="563.400" textLength="394" lengthAdjust="spacing">e27 4w led bulb max60w(bulb included)</text>
<text x="397" y="593.400" textLength="50" lengthAdjust="spacing">14cm</text>
<rect x="532" y="292.400" width="1.250" height="235.200" fill="#1a1a1a"/>
<rect x="316.500" y="573.800" width="212" height="1.250" fill="#1a1a1a"/>
</g>
</svg>
</body></html>
